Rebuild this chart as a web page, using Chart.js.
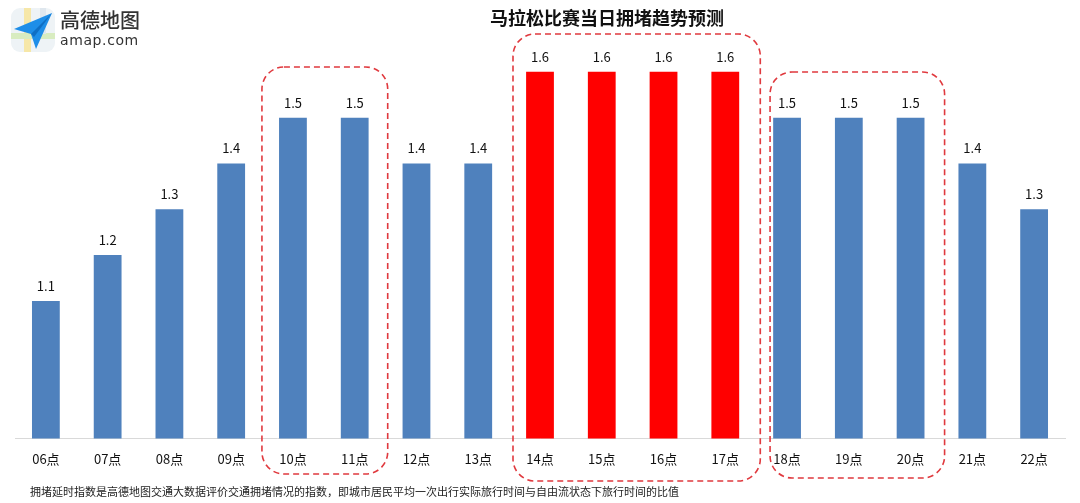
<!DOCTYPE html>
<html lang="zh">
<head>
  <meta charset="UTF-8">
  <title>马拉松比赛当日拥堵趋势预测</title>
  <script src="https://cdn.jsdelivr.net/npm/chart.js"></script>
  <style>
    body {
      margin: 0;
      background: #ffffff;
      font-family: "Noto Sans CJK SC", "Noto Sans", sans-serif;
    }
    #wrap {
      position: relative;
      width: 1080px;
      height: 503px;
      overflow: hidden;
    }
    #congestChart {
      position: absolute;
      left: 0;
      top: 0;
    }
    #title {
      position: absolute;
      left: 0;
      width: 1214px;
      top: 4px;
      text-align: center;
      font-size: 18px;
      font-weight: bold;
      color: #111;
    }
    #note {
      position: absolute;
      left: 30px;
      top: 483px;
      font-size: 11px;
      color: #222;
    }
    #logo {
      position: absolute;
      left: 10px;
      top: 7px;
    }
    #logoText {
      position: absolute;
      left: 60px;
      top: 10px;
      color: #333;
      line-height: 1;
    }
    #logoText .cn { font-size: 20px; font-weight: 500; letter-spacing: 0px; }
    #logoText .en { font-size: 14px; font-family: "DejaVu Sans", sans-serif; margin-top: 3px; letter-spacing: 0.6px; }
  </style>
</head>
<body>
<div id="wrap">
  <canvas id="congestChart" width="1080" height="503"></canvas>
  <svg id="logo" width="46" height="46" viewBox="0 0 46 46">
    <rect x="1" y="1" width="44" height="44" rx="9" fill="#eef3f6"/>
    <rect x="14" y="1" width="7" height="44" fill="#f6e7a8"/>
    <rect x="1" y="26" width="44" height="6" fill="#d8ecc0"/>
    <rect x="30" y="1" width="6" height="26" fill="#dfe7ee"/>
    <path d="M4 22 L42 6 L26 42 L21 27 Z" fill="#1e8ee8"/>
    <path d="M21 27 L42 6 L24 30 Z" fill="#0f6fc4"/>
  </svg>
  <div id="logoText"><div class="cn">高德地图</div><div class="en">amap.com</div></div>
  <div id="title">马拉松比赛当日拥堵趋势预测</div>
  <div id="note">拥堵延时指数是高德地图交通大数据评价交通拥堵情况的指数，即城市居民平均一次出行实际旅行时间与自由流状态下旅行时间的比值</div>
</div>

<script>
  const hours = ['06点', '07点', '08点', '09点', '10点', '11点', '12点', '13点', '14点',
                 '15点', '16点', '17点', '18点', '19点', '20点', '21点', '22点'];
  const delayIndex = [1.1, 1.2, 1.3, 1.4, 1.5, 1.5, 1.4, 1.4, 1.6, 1.6, 1.6, 1.6, 1.5, 1.5, 1.5, 1.4, 1.3];
  const peakHours = ['14点', '15点', '16点', '17点'];
  // groups of hours circled by dashed boxes
  const circled = [['10点', '11点'], ['14点', '17点'], ['18点', '20点']];

  const barColors = hours.map(h => peakHours.includes(h) ? '#ff0000' : '#4f81bd');

  const valueLabels = {
    id: 'valueLabels',
    afterDatasetsDraw(chart) {
      const ctx = chart.ctx;
      const meta = chart.getDatasetMeta(0);
      ctx.save();
      ctx.font = '13px "Noto Sans CJK SC", sans-serif';
      ctx.fillStyle = '#111';
      ctx.textAlign = 'center';
      ctx.textBaseline = 'middle';
      meta.data.forEach((bar, i) => {
        ctx.fillText(delayIndex[i].toFixed(1), bar.x, bar.y - 15);
      });
      ctx.restore();
    }
  };

  // box extents around each group: [left pad, right pad, top, bottom] in px
  const boxPads = [[31, 33, 67, 474], [27, 35, 34, 481], [17, 34, 72, 478]];

  const dashedBoxes = {
    id: 'dashedBoxes',
    afterDraw(chart) {
      const ctx = chart.ctx;
      const x = chart.scales.x;
      ctx.save();
      ctx.strokeStyle = '#e0393e';
      ctx.lineWidth = 1.6;
      ctx.setLineDash([6, 4]);
      circled.forEach((g, k) => {
        const p = boxPads[k];
        const l = x.getPixelForValue(hours.indexOf(g[0])) - p[0];
        const r = x.getPixelForValue(hours.indexOf(g[g.length - 1])) + p[1];
        ctx.beginPath();
        ctx.roundRect(l, p[2], r - l, p[3] - p[2], 22);
        ctx.stroke();
      });
      ctx.restore();
    }
  };

  new Chart(document.getElementById('congestChart'), {
    type: 'bar',
    data: {
      labels: hours,
      datasets: [{
        data: delayIndex,
        backgroundColor: barColors,
        barPercentage: 0.45,
        categoryPercentage: 1.0
      }]
    },
    options: {
      responsive: false,
      animation: false,
      layout: { padding: { left: 15, right: 15, top: 26, bottom: 23 } },
      plugins: {
        legend: { display: false },
        tooltip: { enabled: false }
      },
      scales: {
        x: {
          grid: { display: false, drawTicks: false },
          border: { display: true, color: '#d9d9d9', width: 1 },
          ticks: {
            padding: 13,
            color: '#111',
            font: { size: 13, family: '"Noto Sans CJK SC", sans-serif' }
          }
        },
        y: {
          display: false,
          min: 0.8,
          max: 1.7
        }
      }
    },
    plugins: [valueLabels, dashedBoxes]
  });
</script>
</body>
</html>
